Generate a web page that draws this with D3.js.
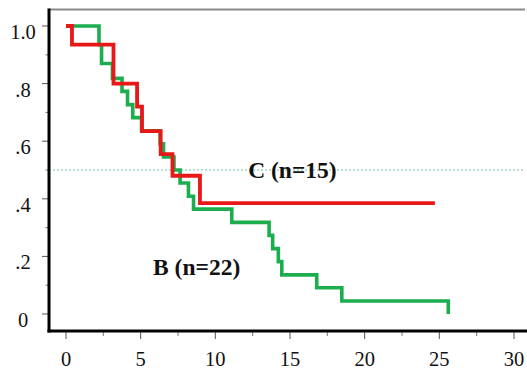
<!DOCTYPE html>
<html>
<head>
<meta charset="utf-8">
<script src="https://cdn.jsdelivr.net/npm/d3@7"></script>
<style>
html,body{margin:0;padding:0;background:#fff;}
svg{display:block;}
svg text{font-family:"Liberation Serif","Times New Roman","DejaVu Serif",serif;}
</style>
</head>
<body>
<svg id="chart" width="527" height="372"></svg>
<script>
// Group C (n=15)
const timesC = [0, 0.4, 3.18, 4.76, 5.09, 6.34, 7.13, 8.97, 24.7];
const survC  = [1.0, 0.935, 0.80, 0.72, 0.635, 0.555, 0.48, 0.385, 0.385];
// Group B (n=22)
const timesB = [0, 2.21, 2.38, 3.11, 3.75, 4.12, 4.47, 5.06, 6.3, 6.53, 7.23, 7.64, 8.2, 8.54, 11.1, 13.6, 13.84, 14.22, 14.45, 16.79, 18.47, 25.6];
const survB  = [1.0, 0.935, 0.87, 0.818, 0.773, 0.727, 0.682, 0.636, 0.591, 0.545, 0.5, 0.455, 0.409, 0.364, 0.318, 0.273, 0.227, 0.182, 0.136, 0.091, 0.045, 0];
const xTicks = [0, 5, 10, 15, 20, 25, 30];
const xMinor = [2.5, 7.5, 12.5, 17.5, 22.5, 27.5];
const yTicks = [0, 0.2, 0.4, 0.6, 0.8, 1.0];
const yTickLabels = ["0", ".2", ".4", ".6", ".8", "1.0"];
const yMinor = [0.1, 0.3, 0.5, 0.7, 0.9];
const refLine = 0.5;
const labels = [{text: "C (n=15)", t: 12.2, v: 0.5}, {text: "B (n=22)", t: 5.83, v: 0.164}];

const svg = d3.select("#chart");
const x = d3.scaleLinear().domain([0, 30]).range([66, 514]);
const y = d3.scaleLinear().domain([0, 1]).range([314, 26]);
const axisX = 49, axisY = 331, topY = 9.5, rightX = 525;

// top border
svg.append("line").attr("x1", axisX).attr("x2", rightX).attr("y1", topY).attr("y2", topY)
  .attr("stroke", "#8a8a8a").attr("stroke-width", 2);

// reference dashed line
svg.append("line").attr("x1", axisX).attr("x2", rightX).attr("y1", y(refLine)).attr("y2", y(refLine))
  .attr("stroke", "#4fb09a").attr("stroke-width", 0.8).attr("stroke-dasharray", "2,2");

// y ticks
svg.selectAll(".ytick").data(yTicks).enter().append("line")
  .attr("x1", axisX - 7).attr("x2", axisX).attr("y1", d => y(d)).attr("y2", d => y(d))
  .attr("stroke", "#555").attr("stroke-width", 1);
svg.selectAll(".yminor").data(yMinor).enter().append("line")
  .attr("x1", axisX - 3.5).attr("x2", axisX).attr("y1", d => y(d)).attr("y2", d => y(d))
  .attr("stroke", "#777").attr("stroke-width", 1);
svg.selectAll(".ylab").data(yTicks).enter().append("text")
  .attr("x", 23).attr("y", d => y(d) + 13)
  .attr("text-anchor", "middle").style("font-size", "20.5px").attr("fill", "#111")
  .text((d, i) => yTickLabels[i]);

// x ticks
svg.selectAll(".xtick").data(xTicks).enter().append("line")
  .attr("x1", d => x(d)).attr("x2", d => x(d)).attr("y1", axisY).attr("y2", axisY + 8)
  .attr("stroke", "#555").attr("stroke-width", 1);
svg.selectAll(".xminor").data(xMinor).enter().append("line")
  .attr("x1", d => x(d)).attr("x2", d => x(d)).attr("y1", axisY).attr("y2", axisY + 5)
  .attr("stroke", "#777").attr("stroke-width", 1);
svg.selectAll(".xlab").data(xTicks).enter().append("text")
  .attr("x", d => x(d)).attr("y", 366)
  .attr("text-anchor", "middle").style("font-size", "20.5px").attr("fill", "#111")
  .text(d => d);

// curves
const line = d3.line().x(d => x(d[0])).y(d => y(d[1])).curve(d3.curveStepAfter);
const ptsB = timesB.map((t, i) => [t, survB[i]]);
const ptsC = timesC.map((t, i) => [t, survC[i]]);
svg.append("path").attr("d", line(ptsB)).attr("fill", "none")
  .attr("stroke", "#1cae4e").attr("stroke-width", 3.6);
svg.append("path").attr("d", line(ptsC)).attr("fill", "none")
  .attr("stroke", "#e81818").attr("stroke-width", 3.8);

// axes lines
svg.append("line").attr("x1", axisX).attr("x2", axisX).attr("y1", topY - 1).attr("y2", axisY + 1.5)
  .attr("stroke", "#000").attr("stroke-width", 3);
svg.append("line").attr("x1", axisX - 1.5).attr("x2", 527).attr("y1", axisY).attr("y2", axisY)
  .attr("stroke", "#000").attr("stroke-width", 3);

// group labels
svg.selectAll(".glab").data(labels).enter().append("text")
  .attr("x", d => x(d.t)).attr("y", d => y(d.v) + 8)
  .style("font-size", "23.5px").style("font-weight", "bold").attr("fill", "#111")
  .text(d => d.text);
</script>
</body>
</html>
